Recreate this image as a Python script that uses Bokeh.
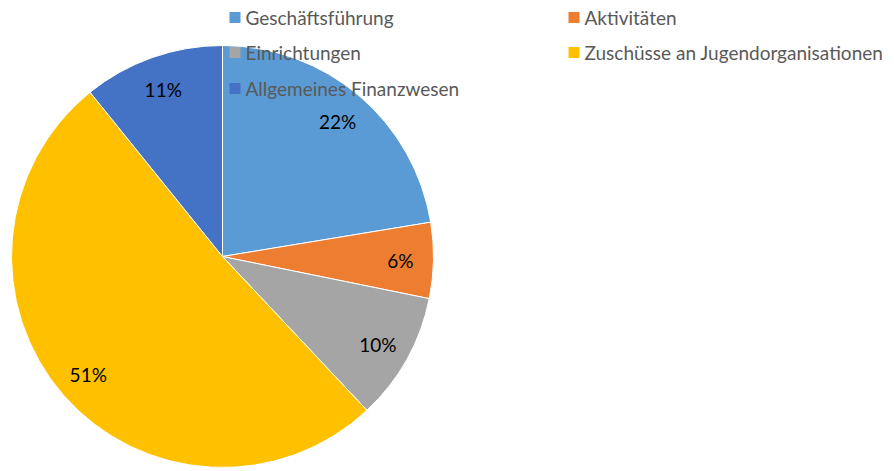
import math
from bokeh.plotting import figure
from bokeh.models import ColumnDataSource, Range1d
from bokeh.core.properties import value
from bokeh.embed import file_html
from bokeh.resources import INLINE

categories = ["Geschäftsführung", "Aktivitäten", "Einrichtungen",
              "Zuschüsse an Jugendorganisationen", "Allgemeines Finanzwesen"]
shares = [22.4, 5.8, 9.8, 51.2, 10.8]
colors = ["#5B9BD5", "#ED7D31", "#A5A5A5", "#FFC000", "#4472C4"]

W, H = 894, 471
CX, CY, R = 222, H - 256, 211
LABEL_R = 178
FONT = "Lato"

total = sum(shares)
starts, ends, lx, ly, labels = [], [], [], [], []
a = math.pi / 2
for s in shares:
    span = s / total * 2 * math.pi
    starts.append(a - span)
    ends.append(a)
    mid = a - span / 2
    lx.append(CX + LABEL_R * math.cos(mid))
    ly.append(CY + LABEL_R * math.sin(mid) - 1)
    labels.append(f"{round(s / total * 100)}%")
    a -= span

src = ColumnDataSource(dict(start=starts, end=ends, color=colors,
                            lx=lx, ly=ly, label=labels))

p = figure(width=W, height=H, output_backend="svg", toolbar_location=None,
           x_range=Range1d(0, W), y_range=Range1d(0, H), min_border=0)
p.axis.visible = False
p.grid.visible = False
p.outline_line_color = None
p.background_fill_color = "white"

p.wedge(x=CX, y=CY, radius=R, start_angle="start", end_angle="end",
        fill_color="color", line_color="white", line_width=1, source=src)
p.text(x="lx", y="ly", text="label", source=src, text_align="center",
       text_baseline="middle", text_font=value(FONT), text_font_size="19px",
       text_color="#000000")

# legend (two columns, drawn on top of the pie)
leg_x = [229, 568, 229, 568, 229]
leg_y = [17, 17, 52, 52, 88]
lsrc = ColumnDataSource(dict(x=[x + 5.5 for x in leg_x], y=[H - y for y in leg_y],
                             tx=[x + 16 for x in leg_x], color=colors, name=categories))
p.rect(x="x", y="y", width=11, height=11, fill_color="color", line_color=None, source=lsrc)
p.text(x="tx", y="y", text="name", source=lsrc, text_align="left",
       text_baseline="middle", text_font=value(FONT), text_font_size="19px",
       text_color="#595959")

open("out.html", "w").write(file_html(p, INLINE))
